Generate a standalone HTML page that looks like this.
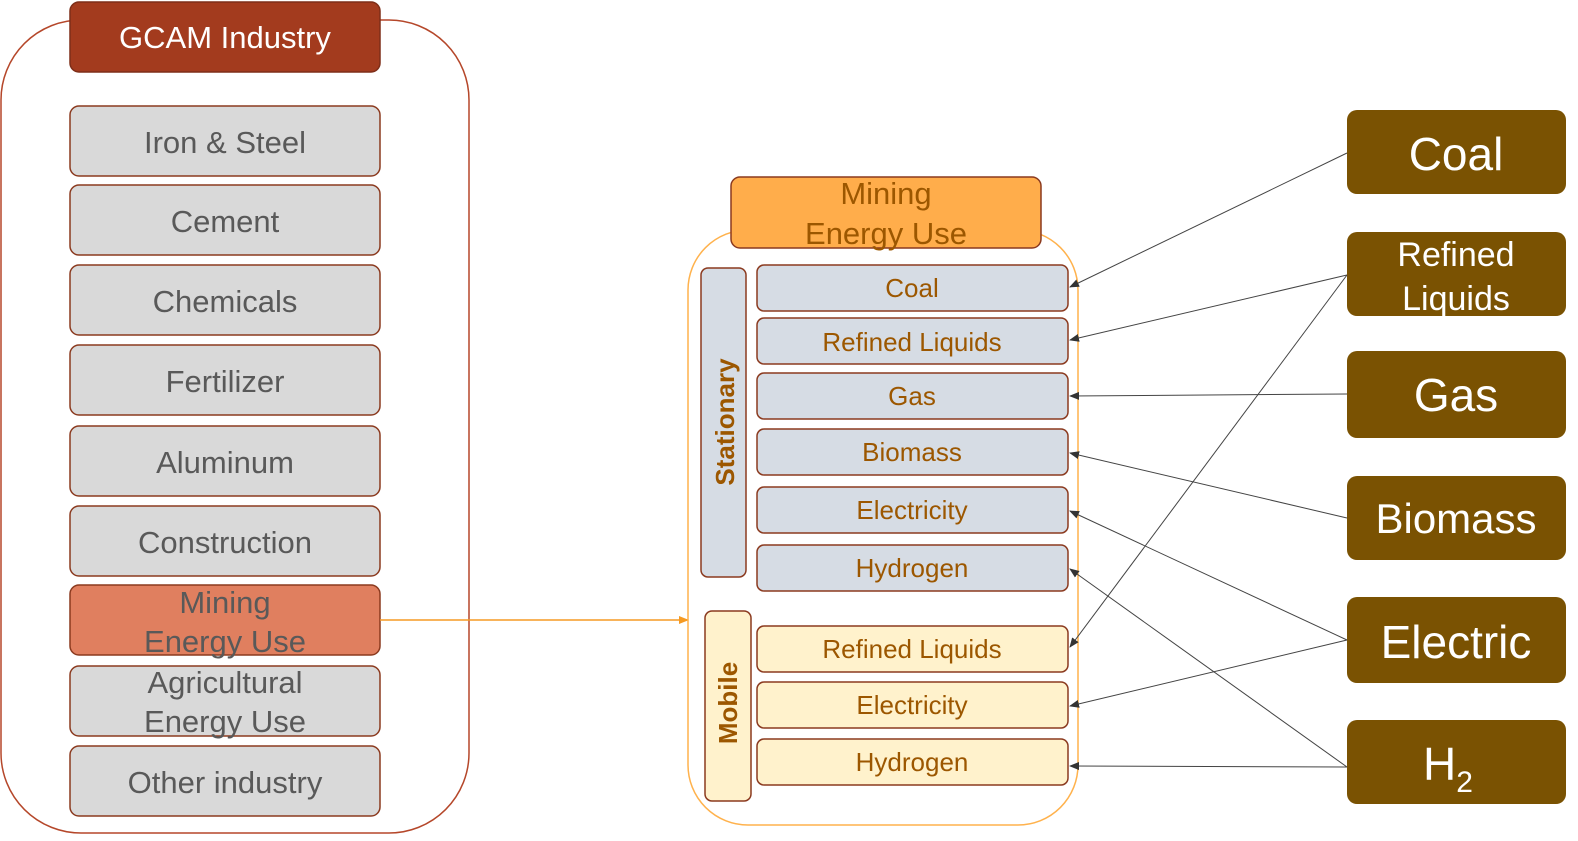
<!DOCTYPE html>
<html><head><meta charset="utf-8"><style>
html,body{margin:0;padding:0;background:#fff;overflow:hidden;width:1578px;height:841px;}
svg{display:block;}
text{font-family:"Liberation Sans",sans-serif;}
</style></head><body>
<svg width="1578" height="841" viewBox="0 0 1578 841" xmlns="http://www.w3.org/2000/svg">
<defs>
<marker id="a" markerWidth="10" markerHeight="8" refX="9" refY="4" orient="auto" markerUnits="userSpaceOnUse"><path d="M0,0 L10,4 L0,8 z" fill="#333"/></marker>
<marker id="o" markerWidth="10" markerHeight="8" refX="9" refY="4" orient="auto" markerUnits="userSpaceOnUse"><path d="M0,0 L10,4 L0,8 z" fill="#F59A23"/></marker>
</defs>
<rect x="1" y="20" width="468" height="813" rx="80" fill="none" stroke="#B5472A" stroke-width="1.5"/>
<rect x="70" y="2" width="310" height="70" rx="9" fill="#A33B1E" stroke="#7E2E18" stroke-width="1.5"/>
<text x="225" y="48" font-size="31" fill="#fff" text-anchor="middle">GCAM Industry</text>
<g stroke="#8B3A1F" stroke-width="1.5" fill="#D9D9D9">
<rect x="70" y="106" width="310" height="70" rx="9"/>
<rect x="70" y="185" width="310" height="70" rx="9"/>
<rect x="70" y="265" width="310" height="70" rx="9"/>
<rect x="70" y="345" width="310" height="70" rx="9"/>
<rect x="70" y="426" width="310" height="70" rx="9"/>
<rect x="70" y="506" width="310" height="70" rx="9"/>
<rect x="70" y="585" width="310" height="70" rx="9" fill="#E07F5F"/>
<rect x="70" y="666" width="310" height="70" rx="9"/>
<rect x="70" y="746" width="310" height="70" rx="9"/>
</g>
<g font-size="31" fill="#595959" text-anchor="middle">
<text x="225" y="153">Iron &amp; Steel</text>
<text x="225" y="232">Cement</text>
<text x="225" y="312">Chemicals</text>
<text x="225" y="392">Fertilizer</text>
<text x="225" y="473">Aluminum</text>
<text x="225" y="553">Construction</text>
<text x="225" y="613">Mining</text>
<text x="225" y="652">Energy Use</text>
<text x="225" y="693">Agricultural</text>
<text x="225" y="732">Energy Use</text>
<text x="225" y="793">Other industry</text>
</g>
<line x1="380" y1="620" x2="688" y2="620" stroke="#F59A23" stroke-width="1.5" marker-end="url(#o)"/>
<rect x="688" y="230" width="390" height="595" rx="60" fill="none" stroke="#FFB24D" stroke-width="1.5"/>
<rect x="731" y="177" width="310" height="71" rx="9" fill="#FFAD4B" stroke="#8B3A1F" stroke-width="1.5"/>
<text x="886" y="204" font-size="31" fill="#9C5700" text-anchor="middle">Mining</text>
<text x="886" y="244" font-size="31" fill="#9C5700" text-anchor="middle">Energy Use</text>
<rect x="701" y="268" width="45" height="309" rx="7" fill="#D6DCE4" stroke="#8B3A1F" stroke-width="1.5"/>
<text transform="translate(734,422) rotate(-90)" font-size="26" font-weight="bold" fill="#9C5700" text-anchor="middle">Stationary</text>
<rect x="705" y="611" width="46" height="190" rx="7" fill="#FFF2CC" stroke="#8B3A1F" stroke-width="1.5"/>
<text transform="translate(737,703) rotate(-90)" font-size="26" font-weight="bold" fill="#9C5700" text-anchor="middle">Mobile</text>
<g stroke="#8B3A1F" stroke-width="1.5" fill="#D6DCE4">
<rect x="757" y="265" width="311" height="46" rx="7"/>
<rect x="757" y="318" width="311" height="46" rx="7"/>
<rect x="757" y="373" width="311" height="46" rx="7"/>
<rect x="757" y="429" width="311" height="46" rx="7"/>
<rect x="757" y="487" width="311" height="46" rx="7"/>
<rect x="757" y="545" width="311" height="46" rx="7"/>
<rect x="757" y="626" width="311" height="46" rx="7" fill="#FFF2CC"/>
<rect x="757" y="682" width="311" height="46" rx="7" fill="#FFF2CC"/>
<rect x="757" y="739" width="311" height="46" rx="7" fill="#FFF2CC"/>
</g>
<g font-size="26" fill="#9C5700" text-anchor="middle">
<text x="912" y="297">Coal</text>
<text x="912" y="351">Refined  Liquids</text>
<text x="912" y="405">Gas</text>
<text x="912" y="461">Biomass</text>
<text x="912" y="519">Electricity</text>
<text x="912" y="577">Hydrogen</text>
<text x="912" y="658">Refined  Liquids</text>
<text x="912" y="714">Electricity</text>
<text x="912" y="771">Hydrogen</text>
</g>
<g fill="#7A5202">
<rect x="1347" y="110" width="219" height="84" rx="10"/>
<rect x="1347" y="232" width="219" height="84" rx="10"/>
<rect x="1347" y="351" width="219" height="87" rx="10"/>
<rect x="1347" y="476" width="219" height="84" rx="10"/>
<rect x="1347" y="597" width="219" height="86" rx="10"/>
<rect x="1347" y="720" width="219" height="84" rx="10"/>
</g>
<g fill="#fff" text-anchor="middle">
<text x="1456" y="170" font-size="46">Coal</text>
<text x="1456" y="266" font-size="34">Refined</text>
<text x="1456" y="310" font-size="34">Liquids</text>
<text x="1456" y="411" font-size="46">Gas</text>
<text x="1456" y="533" font-size="42">Biomass</text>
<text x="1456" y="658" font-size="46">Electric</text>
<text x="1448" y="780" font-size="46">H<tspan font-size="30" dy="12">2</tspan></text>
</g>
<g stroke="#444" stroke-width="1" marker-end="url(#a)">
<line x1="1347" y1="153" x2="1070" y2="287"/>
<line x1="1347" y1="275" x2="1070" y2="340"/>
<line x1="1347" y1="275" x2="1070" y2="647"/>
<line x1="1347" y1="394" x2="1070" y2="396"/>
<line x1="1347" y1="518" x2="1070" y2="453"/>
<line x1="1347" y1="640" x2="1070" y2="511"/>
<line x1="1347" y1="640" x2="1070" y2="706"/>
<line x1="1347" y1="767" x2="1070" y2="569"/>
<line x1="1347" y1="767" x2="1070" y2="766"/>
</g>
</svg>
</body></html>
